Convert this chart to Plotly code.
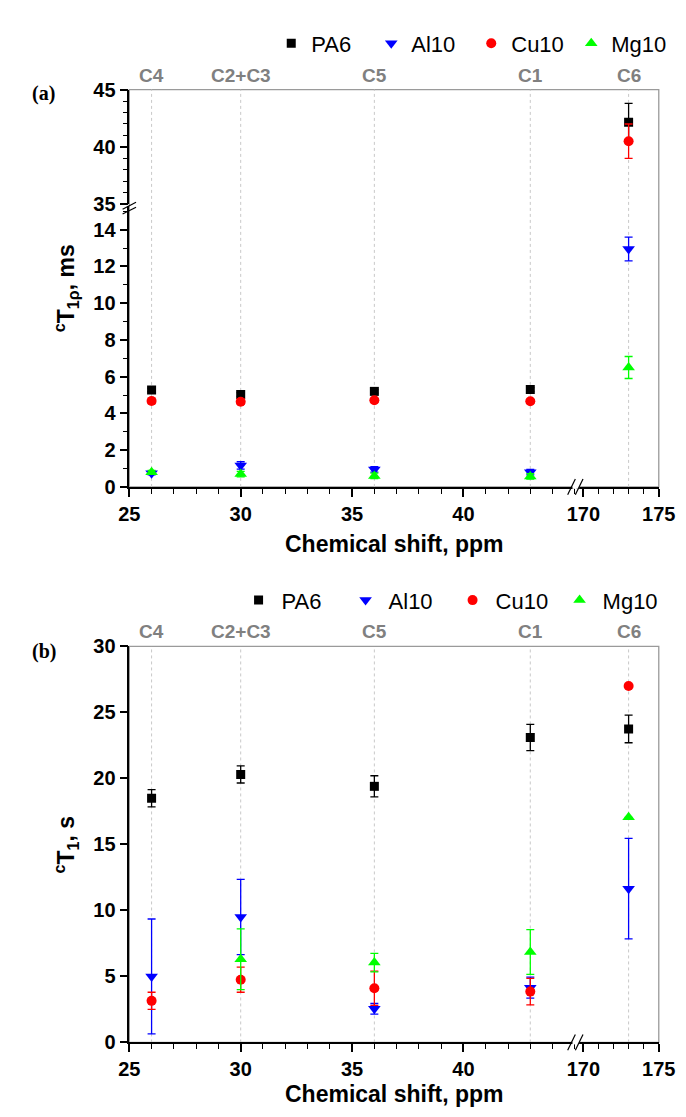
import plotly.graph_objects as go

# ---------------- data ----------------
categories = ["C4", "C2+C3", "C5", "C1", "C6"]
positions = [26, 30, 36, 43, 173]          # chemical shift, ppm
series = ["PA6", "Al10", "Cu10", "Mg10"]

# (a) cT1rho, ms
t1rho_PA6 = [5.28, 5.03, 5.20, 5.30, 42.15]
t1rho_Al10 = [0.75, 1.17, 0.95, 0.80, 12.95]
t1rho_Cu10 = [4.68, 4.64, 4.72, 4.66, 40.50]
t1rho_Mg10 = [0.80, 0.70, 0.60, 0.57, 6.50]
t1rho_err_PA6 = [0.10, 0.10, 0.10, 0.10, 1.65]
t1rho_err_Al10 = [0.10, 0.20, 0.15, 0.15, 0.65]
t1rho_err_Cu10 = [0.15, 0.15, 0.10, 0.10, 1.50]
t1rho_err_Mg10 = [0.10, 0.15, 0.15, 0.15, 0.60]

# (b) cT1, s
t1_PA6 = [18.50, 20.30, 19.40, 23.10, 23.75]
t1_Al10 = [5.00, 9.50, 2.55, 4.15, 11.65]
t1_Cu10 = [3.15, 4.75, 4.10, 3.85, 27.00]
t1_Mg10 = [None, 6.30, 6.05, 6.85, 17.05]
t1_err_PA6 = [0.65, 0.65, 0.80, 1.00, 1.05]
t1_err_Al10 = [4.35, 2.85, 0.40, 0.80, 3.80]
t1_err_Cu10 = [0.65, 0.95, 1.30, 1.00, 0.0]
t1_err_Mg10 = [0.0, 2.30, 0.70, 1.70, 0.0]

x_ticks_left = [25, 30, 35, 40]
x_ticks_right = [170, 175]

# ---------------- styling ----------------
W, H = 686, 1117
colors = {"PA6": "#000000", "Al10": "#0000FF", "Cu10": "#FF0000", "Mg10": "#00FF00"}
symbols = {"PA6": "square", "Al10": "triangle-down", "Cu10": "circle", "Mg10": "triangle-up"}
sizes = {"PA6": 9, "Al10": 11, "Cu10": 10, "Mg10": 11}
FONT = "Arial, Liberation Sans, sans-serif"
SERIF = "Liberation Serif, Times New Roman, serif"


def px_x(p):
    return p / W


def px_y(p):
    return 1 - p / H


XL = [px_x(115), px_x(579.5)]
XR = [px_x(580.5), px_x(667)]
TOP_A, BOT_A = 72, 477.3
TOP_B, BOT_B = 640, 1044
Y_A_LOW = [px_y(BOT_A), px_y(190.6)]
Y_A_UP = [px_y(189), px_y(TOP_A)]
Y_B = [px_y(BOT_B), px_y(TOP_B)]

fig = go.Figure()

data_a = {"PA6": (t1rho_PA6, t1rho_err_PA6), "Al10": (t1rho_Al10, t1rho_err_Al10),
          "Cu10": (t1rho_Cu10, t1rho_err_Cu10), "Mg10": (t1rho_Mg10, t1rho_err_Mg10)}
data_b = {"PA6": (t1_PA6, t1_err_PA6), "Al10": (t1_Al10, t1_err_Al10),
          "Cu10": (t1_Cu10, t1_err_Cu10), "Mg10": (t1_Mg10, t1_err_Mg10)}


def add_series(name, vals, errs, panel):
    groups = {}
    for x, v, e in zip(positions, vals, errs):
        if v is None:
            continue
        if panel == "a":
            xa = "x" if x < 100 else "x2"
            ya = "y2" if v > 30 else "y"
        else:
            xa = "x3" if x < 100 else "x4"
            ya = "y3"
        groups.setdefault((xa, ya), ([], [], []))
        groups[(xa, ya)][0].append(x)
        groups[(xa, ya)][1].append(v)
        groups[(xa, ya)][2].append(e)
    first = True
    for (xa, ya), (xs, vs, es) in groups.items():
        fig.add_trace(go.Scatter(
            x=xs, y=vs, xaxis=xa, yaxis=ya, mode="markers", name=name,
            legend="legend" if panel == "a" else "legend2",
            showlegend=first, legendgroup=name + panel,
            marker=dict(symbol=symbols[name], size=sizes[name], color=colors[name]),
            error_y=dict(type="data", array=es, visible=True, color=colors[name],
                         thickness=1.3, width=4),
        ))
        first = False


for s in series:
    add_series(s, *data_a[s], "a")
for s in series:
    add_series(s, *data_b[s], "b")

tickfont = dict(family=FONT, size=20, color="black", weight="bold")
axis_common = dict(showline=True, linecolor="black", linewidth=1.5, ticks="outside",
                   tickcolor="black", tickwidth=1.5, ticklen=8, tickfont=tickfont,
                   showgrid=False, zeroline=False, fixedrange=True)
minor_x = dict(dtick=1, ticklen=5, tickcolor="black", tickwidth=1.2, ticks="outside", showgrid=False)
minor_y = dict(dtick=1, ticklen=5, tickcolor="black", tickwidth=1.2, ticks="outside", showgrid=False)

fig.update_layout(
    xaxis=dict(domain=XL, range=[25, 45], anchor="y", tickmode="array", tickvals=x_ticks_left,
               minor=dict(tick0=25, **minor_x), **axis_common),
    xaxis2=dict(domain=XR, range=[169.5, 175], anchor="y", tickmode="array", tickvals=x_ticks_right,
                minor=dict(tick0=170, **minor_x), **axis_common),
    yaxis=dict(domain=Y_A_LOW, range=[0, 15.3], anchor="x", dtick=2, tick0=0,
               minor=dict(tick0=0, **minor_y), **axis_common),
    yaxis2=dict(domain=Y_A_UP, range=[35, 45], anchor="x", dtick=5, tick0=35,
                minor=dict(tick0=35, **minor_y), **axis_common),
    xaxis3=dict(domain=XL, range=[25, 45], anchor="y3", tickmode="array", tickvals=x_ticks_left,
                minor=dict(tick0=25, **minor_x), **axis_common),
    xaxis4=dict(domain=XR, range=[169.5, 175], anchor="y3", tickmode="array", tickvals=x_ticks_right,
                minor=dict(tick0=170, **minor_x), **axis_common),
    yaxis3=dict(domain=Y_B, range=[0, 30], anchor="x3", dtick=5, tick0=0, **axis_common),
)

# ---------------- legends ----------------
leg_common = dict(orientation="h", xanchor="right", yanchor="middle",
                  font=dict(family=FONT, size=22, color="black"), bgcolor="rgba(0,0,0,0)",
                  itemclick=False, itemdoubleclick=False, tracegroupgap=0,
                  entrywidthmode="pixels")
fig.update_layout(legend=dict(y=px_y(25), x=px_x(680), entrywidth=55, **leg_common),
                  legend2=dict(y=px_y(593), x=px_x(672), entrywidth=56, itemwidth=36, **leg_common))

# ---------------- shapes: frame, category grid lines, breaks ----------------
shapes = []
for top, bot in [(TOP_A, BOT_A), (TOP_B, BOT_B)]:
    shapes.append(dict(type="rect", xref="paper", yref="paper", x0=XL[0], x1=XR[1],
                       y0=px_y(bot), y1=px_y(top), line=dict(color="#9a9a9a", width=1.3),
                       layer="below"))
for (top, bot), (xl, xr) in [((TOP_A, BOT_A), ("x", "x2")), ((TOP_B, BOT_B), ("x3", "x4"))]:
    for p in positions:
        shapes.append(dict(type="line", xref=xl if p < 100 else xr, yref="paper", x0=p, x1=p,
                           y0=px_y(bot), y1=px_y(top),
                           line=dict(color="#c8c8c8", width=1, dash="dot"), layer="below"))
# y break (panel a)
for dy in (0, 5):
    shapes.append(dict(type="line", xref="paper", yref="paper", x0=px_x(108), x1=px_x(122),
                       y0=px_y(194 + dy), y1=px_y(187 + dy), line=dict(color="black", width=1.2)))
# x breaks
for bot in (BOT_A, BOT_B):
    shapes.append(dict(type="rect", xref="paper", yref="paper", x0=px_x(577), x1=px_x(584),
                       y0=px_y(bot + 2), y1=px_y(bot - 2), line=dict(width=0), fillcolor="white"))
    for dx in (0, 8):
        shapes.append(dict(type="line", xref="paper", yref="paper", x0=px_x(572 + dx), x1=px_x(580 + dx),
                           y0=px_y(bot + 8), y1=px_y(bot - 8), line=dict(color="black", width=1.2)))
fig.update_layout(shapes=shapes)

# ---------------- annotations ----------------
ann = []
for ylab, (xl, xr) in [(58, ("x", "x2")), (625, ("x3", "x4"))]:
    for c, p in zip(categories, positions):
        ann.append(dict(text="<b>%s</b>" % c, xref=xl if p < 100 else xr, yref="paper", x=p,
                        y=px_y(ylab), showarrow=False, xanchor="center", yanchor="middle",
                        font=dict(family=FONT, size=19, color="#808080")))
for lab, yy in (("(a)", 76), ("(b)", 645)):
    ann.append(dict(text="<b>%s</b>" % lab, xref="paper", yref="paper", x=px_x(26), y=px_y(yy),
                    xanchor="center", yanchor="middle", showarrow=False,
                    font=dict(family=SERIF, size=20, color="black")))
ann.append(dict(text="<b><sup>c</sup>T<sub>1ρ</sub>, ms</b>", xref="paper", yref="paper",
                x=px_x(49), y=px_y((TOP_A + BOT_A) / 2), textangle=-90, showarrow=False,
                xanchor="center", yanchor="middle",
                font=dict(family=FONT, size=23, color="black")))
ann.append(dict(text="<b><sup>c</sup>T<sub>1</sub>, s</b>", xref="paper", yref="paper",
                x=px_x(49), y=px_y((TOP_B + BOT_B) / 2), textangle=-90, showarrow=False,
                xanchor="center", yanchor="middle",
                font=dict(family=FONT, size=23, color="black")))
for yy in (536, 1097):
    ann.append(dict(text="<b>Chemical shift, ppm</b>", xref="paper", yref="paper",
                    x=px_x(391), y=px_y(yy), showarrow=False, xanchor="center", yanchor="middle",
                    font=dict(family=FONT, size=23, color="black")))
fig.update_layout(annotations=ann)

fig.update_layout(width=W, height=H, autosize=False, margin=dict(l=0, r=0, t=0, b=0, pad=0),
                  paper_bgcolor="white", plot_bgcolor="rgba(0,0,0,0)", showlegend=True,
                  hovermode=False)

fig.write_html("out.html", config={"displayModeBar": False})
